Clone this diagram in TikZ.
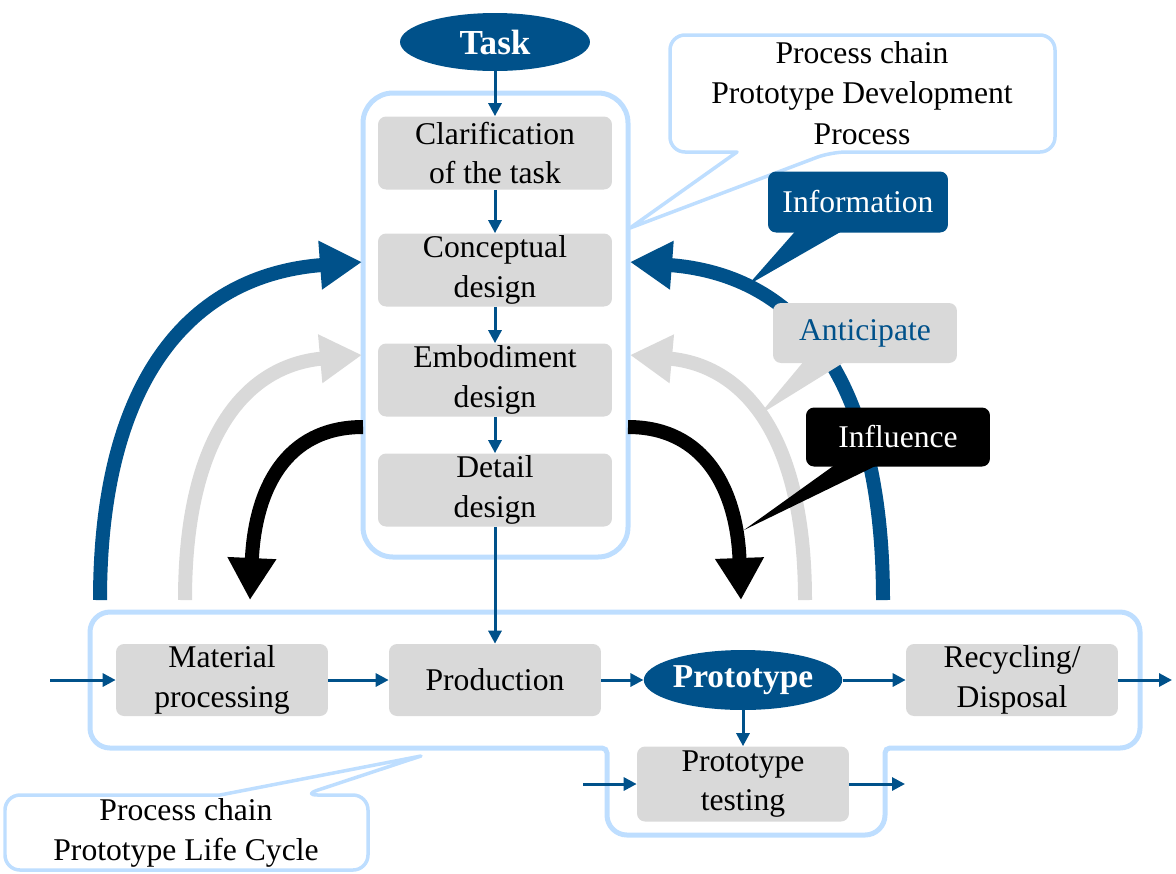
\documentclass[tikz,border=0pt]{standalone}
\usepackage{fontspec}
\setmainfont{Liberation Serif}
\usetikzlibrary{arrows.meta,shapes.geometric}
\definecolor{pdpBlue}{RGB}{0,81,138}
\definecolor{pdpFrame}{RGB}{190,222,255}
\definecolor{pdpGray}{RGB}{217,217,217}
\tikzset{
  stepbox/.style={fill=pdpGray, rounded corners=0.16cm, minimum width=4.68cm, minimum height=1.46cm,
    inner sep=0pt, align=center, font=\fontsize{18}{22.5}\selectfont},
  chainbox/.style={stepbox, minimum width=4.24cm, minimum height=1.44cm},
  oval/.style={ellipse, fill=pdpBlue, text=white, inner sep=0pt, font=\bfseries\fontsize{19}{22}\selectfont},
  frame/.style={draw=pdpFrame, line width=0.1cm},
  flow/.style={draw=pdpBlue, line width=0.06cm, -{Triangle[length=0.26cm,width=0.26cm]}},
  bigarrow/.style={line width=0.28cm, -{Triangle[length=0.84cm,width=0.92cm]}},
  calloutline/.style={draw=pdpFrame, fill=white, line width=0.07cm, line join=round},
  note/.style={align=center, inner sep=0pt, font=\fontsize{18}{23}\selectfont},
  notebox/.style={note, rounded corners=0.16cm, minimum width=3.68cm, minimum height=1.2cm}
}
\begin{document}
\begin{tikzpicture}[x=0.02cm, y=-0.02cm]
\useasboundingbox (0,0) rectangle (1176,873);
% Frames of the two process chains
\draw[frame, rounded corners=0.6cm] (363,93) rectangle (628,557);
\draw[frame] (90,680) [rounded corners=0.4cm] -- (90,612) -- (1140,612) -- (1140,748)
  [rounded corners=0.1cm] -- (885,748) [rounded corners=0.4cm] -- (885,835) -- (607,835)
  [rounded corners=0.1cm] -- (607,748) [rounded corners=0.4cm] -- (90,748) -- cycle;
% Development process
\node[oval, minimum width=3.8cm, minimum height=1.16cm, font=\bfseries\fontsize{20}{24}\selectfont] (task) at (495,42) {Task};
\node[stepbox] (clar) at (495,153) {Clarification\\of the task};
\node[stepbox] (concept) at (495,270) {Conceptual\\design};
\node[stepbox] (embod) at (495,380) {Embodiment\\design};
\node[stepbox] (detail) at (495,490) {Detail\\design};
% Life cycle
\node[chainbox] (matproc) at (222,680) {Material\\processing};
\node[chainbox] (prod) at (495,680) {Production};
\node[oval, minimum width=3.86cm, minimum height=1.2cm] (proto) at (743,680) {Prototype};
\node[chainbox] (recyc) at (1012,680) {Recycling/\\Disposal};
\node[chainbox, minimum height=1.5cm] (test) at (743,784) {Prototype\\testing};
\coordinate (in1) at (50,680);
\coordinate (out1) at (1172,680);
\coordinate (in2) at (583,784);
\coordinate (out2) at (905,784);
% Small connectors
\draw[flow] (task) -- (clar);
\draw[flow] (clar) -- (concept);
\draw[flow] (concept) -- (embod);
\draw[flow] (embod) -- (detail);
\draw[flow] (detail) -- (prod);
\draw[flow] (in1) -- (matproc);
\draw[flow] (matproc) -- (prod);
\draw[flow] (prod) -- (proto);
\draw[flow] (proto) -- (recyc);
\draw[flow] (recyc) -- (out1);
\draw[flow] (proto) -- (test);
\draw[flow] (in2) -- (test);
\draw[flow] (test) -- (out2);
% Feedback arcs
\draw[bigarrow, pdpBlue] (100,600) .. controls (100,380) and (190,275) .. (362,262);
\draw[bigarrow, pdpBlue] (883,600) .. controls (883,380) and (800,275) .. (630,262);
\draw[bigarrow, pdpGray] (185,600) .. controls (185,430) and (250,365) .. (362,355);
\draw[bigarrow, pdpGray] (805,600) .. controls (805,430) and (740,365) .. (630,355);
\draw[bigarrow, black] (363,427) .. controls (285,427) and (255,490) .. (250,600);
\draw[bigarrow, black] (628,427) .. controls (705,427) and (737,490) .. (741,600);
% Callouts
\draw[calloutline] (737,152) [rounded corners=0.3cm] -- (670,152) -- (670,35) -- (1055,35) -- (1055,152)
  -- (831,152) [sharp corners] -- (630,228) -- cycle;
\node[note] (pdpnote) at (862,93) {Process chain\\Prototype Development\\Process};
\draw[calloutline] (220,795) [rounded corners=0.3cm] -- (5,795) -- (5,870) -- (368,870) -- (368,795)
  -- (303,795) [sharp corners] -- (421,756) -- cycle;
\node[note] (plcnote) at (186,833) {Process chain\\Prototype Life Cycle};
\coordinate (infotip) at (748,285);
\coordinate (anttip) at (759,415);
\coordinate (infltip) at (744,530);
\node[notebox, fill=pdpBlue, text=white, minimum width=3.6cm, minimum height=1.22cm] (infonote) at (858,202) {Information};
\fill[pdpBlue] ([xshift=-1.22cm,yshift=2pt]infonote.south) -- ([xshift=-0.26cm,yshift=2pt]infonote.south) -- (infotip) -- cycle;
\node[notebox, fill=pdpGray, text=pdpBlue] (antnote) at (865,333) {Anticipate};
\fill[pdpGray] ([xshift=-1.2cm,yshift=2pt]antnote.south) -- ([xshift=-0.34cm,yshift=2pt]antnote.south) -- (anttip) -- cycle;
\node[notebox, fill=black, text=white, minimum height=1.18cm] (inflnote) at (898,437) {Influence};
\fill[black] ([xshift=-1.22cm,yshift=2pt]inflnote.south) -- ([xshift=-0.34cm,yshift=2pt]inflnote.south) -- (infltip) -- cycle;
\end{tikzpicture}
\end{document}
